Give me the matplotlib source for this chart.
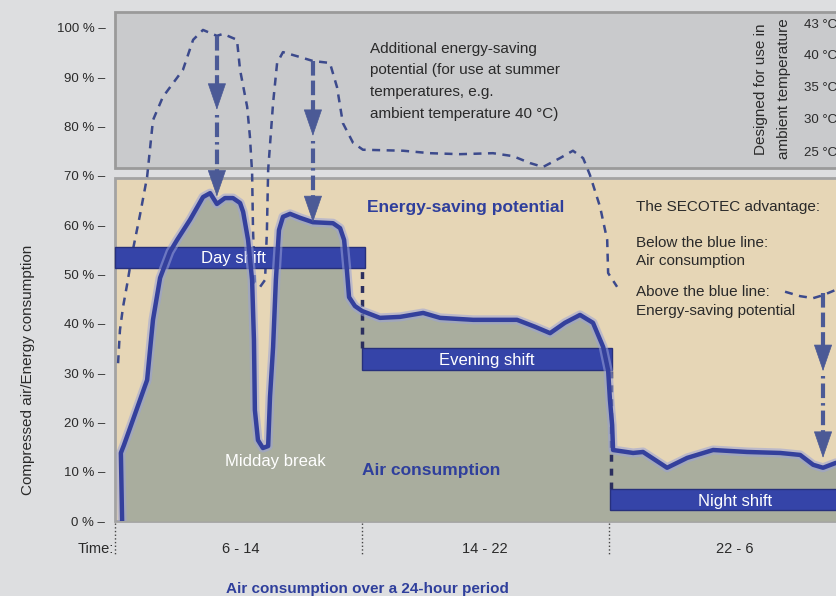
import matplotlib
matplotlib.use("Agg")
import matplotlib.pyplot as plt
from matplotlib.patches import Rectangle

plt.rcParams['font.family'] = ['Liberation Sans', 'DejaVu Sans']

# air consumption curve (hours from 6:00, % of capacity)
air_t = [0.23, 0.19, 0.29, 0.58, 1.04, 1.23, 1.46, 1.78, 2.01, 2.43, 2.85, 3.08, 3.30,
         3.56, 3.82, 4.05, 4.15, 4.31, 4.44, 4.50, 4.53, 4.63, 4.79, 4.96, 5.02, 5.12,
         5.21, 5.31, 5.44, 5.67, 5.99, 6.41, 7.06, 7.29, 7.42, 7.51, 7.58, 7.77, 8.00,
         8.58, 9.23, 9.98, 10.53, 11.60, 13.02, 13.60, 14.09, 14.57, 15.06, 15.48, 15.81,
         15.97, 16.03, 16.10, 16.13, 16.78, 17.10, 17.88, 18.53, 19.37, 20.47, 21.54,
         22.19, 22.61, 22.93, 23.35]
air_p = [0, 13.8, 15.4, 20.5, 28.6, 40.8, 49.3, 54.6, 57.0, 61.1, 65.7, 66.5, 64.3,
         65.5, 65.5, 64.5, 62.7, 57.0, 48.9, 36.7, 22.5, 16.4, 14.8, 15.2, 25.2, 35.3,
         48.9, 59.0, 61.7, 62.3, 61.5, 60.6, 60.4, 59.4, 57.0, 50.9, 45.4, 43.6, 42.6,
         41.2, 41.4, 42.2, 41.2, 40.8, 40.8, 39.4, 38.1, 40.2, 41.8, 40.2, 35.3,
         30.6, 24.5, 19.5, 14.4, 13.8, 14.0, 10.8, 12.8, 14.4, 14.0, 13.8,
         13.4, 11.4, 10.8, 11.8]

# summer curve (dashed), two visible pieces
sum1_t = [0.10, 0.16, 0.26, 0.39, 0.58, 0.81, 1.04, 1.23, 1.55, 1.88, 2.20, 2.53, 2.85,
          3.30, 3.50, 3.95, 4.05, 4.28, 4.37, 4.44, 4.47, 4.53, 4.70, 4.86, 4.92, 4.96,
          5.12, 5.25, 5.44, 5.99, 6.41, 6.96, 7.19, 7.38, 7.71, 8.03, 9.33, 10.20, 11.17,
          12.24, 12.89, 13.44, 13.86, 14.41, 14.83, 15.16, 15.38, 15.71, 15.94, 15.97, 16.26]
sum1_p = [32.0, 38.7, 43.4, 47.9, 55.0, 62.1, 69.8, 81.3, 86.0, 88.8, 91.5, 97.6, 99.6,
          98.4, 98.8, 97.6, 91.5, 84.0, 77.9, 70.6, 59.0, 48.3, 47.5, 48.9, 59.0, 71.2,
          84.8, 92.9, 95.1, 94.1, 93.3, 92.9, 88.0, 80.7, 76.7, 75.3, 75.1, 74.6, 74.4,
          74.6, 74.0, 72.6, 71.8, 73.6, 75.1, 73.6, 70.2, 63.7, 57.0, 50.3, 47.5]
sum2_t = [21.70, 22.19, 22.61, 22.93, 23.35]
sum2_p = [46.5, 45.6, 45.2, 45.8, 46.9]

# shift bars: label, start, end, bottom, top, label x
shifts = [("Day shift", 0.0, 8.1, 51.3, 55.6, 3.82),
          ("Evening shift", 8.0, 16.1, 30.6, 35.0, 12.05),
          ("Night shift", 16.03, 24.0, 2.2, 6.5, 20.08)]
shift_bounds = [0, 8, 16]
period_labels = ["6 - 14", "14 - 22", "22 - 6"]
period_centers = [4.08, 11.98, 20.08]

# saving arrows: x, top, first head tip, second head tip
arrows = [(3.30, 98.4, 83.4, 65.8), (6.41, 93.3, 78.1, 60.6), (22.93, 46.3, 30.4, 12.8)]

temps = ["43 °C", "40 °C", "35 °C", "30 °C", "25 °C"]
temp_p = [100.6, 94.3, 87.8, 81.3, 74.6]

bg = '#dddee0'
blue = '#34409c'
arrow_c = '#4b5a96'
text_c = '#2a2a2a'
title_blue = '#2f3f9c'

fig = plt.figure(figsize=(8.36, 5.96), dpi=100, facecolor=bg)
ax = fig.add_axes([115/836, 75/596, 721/836, 510.3/596])
ax.set_facecolor(bg)
ax.set_xlim(0, 23.35)
ax.set_ylim(0, 103.5)
for s in ax.spines.values():
    s.set_visible(False)
ax.set_xticks([])
ax.set_yticks(range(0, 101, 10))
ax.set_yticklabels([f"{v} % –" for v in range(0, 101, 10)], fontsize=9.5, color=text_c)
ax.tick_params(axis='y', length=0, pad=7)

# panels
ax.add_patch(Rectangle((0, 71.6), 25, 31.6, facecolor='#c9cacc', edgecolor='#9a9a9a',
                       lw=2, clip_on=False, zorder=0))
ax.add_patch(Rectangle((0, 0), 25, 69.6, facecolor='#e6d6b6', edgecolor='#a3a3a3',
                       lw=2, clip_on=False, zorder=0))

# air consumption
ax.fill_between(air_t, 0, air_p, color='#a9ad9e', lw=0, zorder=1)

# shift bars
for name, x0, x1, y0, y1, lx in shifts:
    ax.add_patch(Rectangle((x0, y0), x1 - x0, y1 - y0, facecolor='#3544a8',
                           edgecolor='#27307c', lw=1, zorder=3, clip_on=False))
    ax.text(lx, (y0 + y1) / 2 - 0.3, name, color='white', ha='center', va='center',
            fontsize=12, zorder=4)

# dark dashed shift boundaries in the curve
ax.plot([8.0, 8.0], [35.0, 51.0], color='#2b2f5e', lw=2.5, dashes=[2, 2], zorder=2)
ax.plot([16.05, 16.05], [6.5, 30.6], color='#2b2f5e', lw=2.5, dashes=[2, 2], zorder=2)

ax.plot(air_t, air_p, color='#9aa2d8', lw=6.5, alpha=0.55, zorder=5, solid_capstyle='round')
ax.plot(air_t, air_p, color=blue, lw=3.2, zorder=6, solid_capstyle='round')

# summer curve
for tt, pp in [(sum1_t, sum1_p), (sum2_t, sum2_p)]:
    ax.plot(tt, pp, color='#3c4a8c', lw=1.8, dashes=[3.2, 2.6], zorder=2, clip_on=False)

# arrows
for x, top, h1, h2 in arrows:
    ax.plot([x, x], [top, h1 + 4], color=arrow_c, lw=3, dashes=[3.5, 1.2], zorder=7)
    ax.plot([x, x], [h1 - 1, h2 + 4], color=arrow_c, lw=3, dashes=[0.6, 1.2, 3.5, 1.2], zorder=7)
    for tip in (h1, h2):
        ax.annotate('', xy=(x, tip), xytext=(x, tip + 5.2),
                    arrowprops=dict(arrowstyle='-|>,head_length=1.8,head_width=0.62',
                                    mutation_scale=10, color=arrow_c, lw=0.5,
                                    shrinkA=0, shrinkB=0), zorder=8)

# bottom time axis
for b in shift_bounds:
    ax.plot([b, b], [-0.4, -6.6], color='#444444', lw=1, ls=':', clip_on=False)
ax.text(-0.05, -5.6, "Time:", ha='right', va='center', fontsize=10.5, color=text_c)
for lab, c in zip(period_labels, period_centers):
    ax.text(c, -5.6, lab, ha='center', va='center', fontsize=10.5, color=text_c)
ax.text(8.16, -13.7, "Air consumption over a 24-hour period", ha='center', va='center',
        fontsize=11, color=title_blue, fontweight='bold')

# annotations
ax.text(8.26, 97.2, "Additional energy-saving\npotential (for use at summer\ntemperatures, e.g.\n"
        "ambient temperature 40 °C)", ha='left', va='top', fontsize=11, color=text_c,
        linespacing=1.7)
ax.text(8.16, 63.5, "Energy-saving potential", ha='left', va='center', fontsize=12.5,
        fontweight='bold', color=title_blue)
ax.text(10.23, 10.3, "Air consumption", ha='center', va='center', fontsize=12.5,
        fontweight='bold', color=title_blue, zorder=4)
ax.text(5.2, 12.0, "Midday break", ha='center', va='center', fontsize=12, color='white', zorder=4)
ax.text(16.87, 63.7, "The SECOTEC advantage:", ha='left', va='center', fontsize=11, color=text_c)
ax.text(16.87, 54.5, "Below the blue line:\nAir consumption", ha='left', va='center',
        fontsize=11, color=text_c, linespacing=1.4)
ax.text(16.87, 44.5, "Above the blue line:\nEnergy-saving potential", ha='left', va='center',
        fontsize=11, color=text_c, linespacing=1.4)

ax.text(21.30, 87.6, "Designed for use in\nambient temperature", rotation=90, ha='center',
        va='center', fontsize=11, color=text_c, linespacing=1.8)
for lab, p in zip(temps, temp_p):
    ax.text(22.30, p, lab, ha='left', va='center', fontsize=9.5, color=text_c)

fig.text(28/836, 1 - 370/596, "Compressed air/Energy consumption", rotation=90,
         ha='center', va='center', fontsize=11, color=text_c)

fig.savefig("out.png", dpi=100, facecolor=bg)
